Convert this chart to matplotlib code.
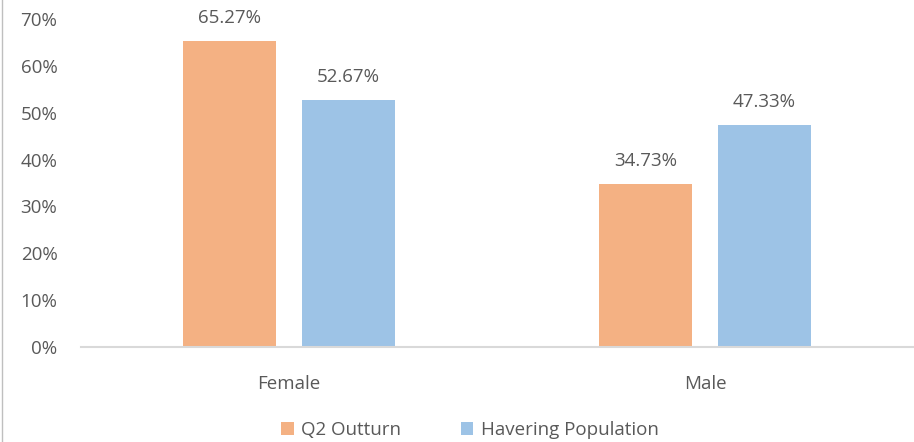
import matplotlib
matplotlib.use("Agg")
import matplotlib.pyplot as plt
from matplotlib.lines import Line2D
import numpy as np

categories = ["Female", "Male"]
series_names = ["Q2 Outturn", "Havering Population"]
q2_outturn = [65.27, 34.73]
havering_population = [52.67, 47.33]
yticks = [0, 10, 20, 30, 40, 50, 60, 70]

plt.rcParams['font.family'] = ['Open Sans', 'DejaVu Sans']
text_color = "#595959"
colors = ["#F4B183", "#9DC3E6"]
fs = 13.5

fig = plt.figure(figsize=(9.14, 4.42), dpi=100)
ax = fig.add_axes([81/914, 1 - 347/442, 832/914, (347 - 19)/442])

x = np.arange(len(categories))
w = 0.224
off = 0.143
b1 = ax.bar(x - off, q2_outturn, w, color=colors[0], label=series_names[0])
b2 = ax.bar(x + off, havering_population, w, color=colors[1], label=series_names[1])

for bars, vals in ((b1, q2_outturn), (b2, havering_population)):
    for r, v in zip(bars, vals):
        ax.text(r.get_x() + r.get_width()/2, v + 3.0, f"{v:.2f}%", ha="center", va="bottom",
                fontsize=fs, color=text_color)

ax.set_xlim(-0.5, 1.5)
ax.set_ylim(0, 70)
ax.set_yticks(yticks)
ax.set_yticklabels([f"{t}%" for t in yticks], fontsize=fs, color=text_color)
ax.set_xticks(x)
ax.set_xticklabels(categories, fontsize=fs, color=text_color)
ax.tick_params(axis='both', length=0)
ax.tick_params(axis='y', pad=17)
ax.tick_params(axis='x', pad=20)
for s in ["top", "right", "left"]:
    ax.spines[s].set_visible(False)
ax.spines["bottom"].set_color("#d9d9d9")
ax.spines["bottom"].set_linewidth(1.5)

leg = fig.legend(handles=[b1, b2], labels=series_names, loc="center", bbox_to_anchor=(470/914, 1 - 430/442),
                 ncol=2, frameon=False, fontsize=fs, handlelength=0.65, handleheight=0.65,
                 columnspacing=3.2, handletextpad=0.4)
for t in leg.get_texts():
    t.set_color(text_color)

fig.add_artist(Line2D([2/914, 2/914], [0, 1], transform=fig.transFigure, color="#bfbfbf", lw=1))

fig.savefig("out.png", dpi=100)
